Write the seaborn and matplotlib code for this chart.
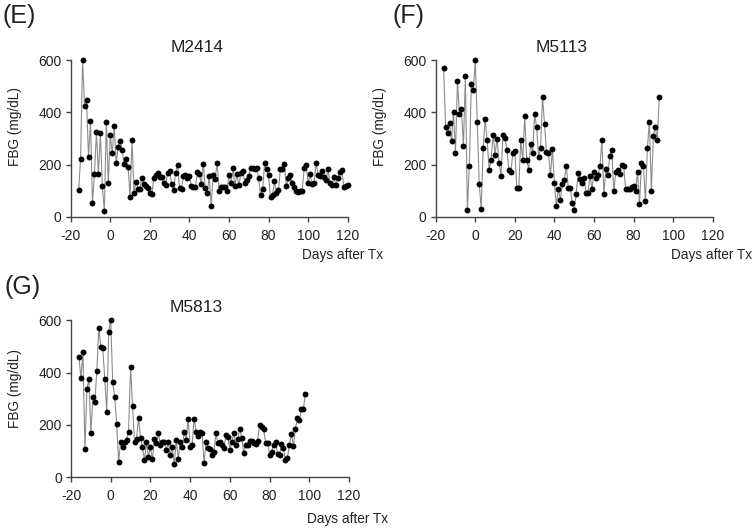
import matplotlib
matplotlib.use("Agg")
import matplotlib.pyplot as plt
import seaborn as sns
import pandas as pd

# ---------------- data ----------------
e_start, e_end = -16, 120
e_fbg = [101, 223, 601, 426, 449, 228, 369, 51, 163, 325, 163, 322, 117, 21, 365, 128,
         315, 243, 348, 205, 269, 292, 257, 202, 222, 192, 75, 294, 92, 134, 108, 108,
         149, 125, 118, 111, 90, 87, 147, 160, 166, 153, 151, 128, 122, 169, 177, 125,
         102, 169, 199, 111, 108, 156, 160, 147, 156, 118, 113, 113, 171, 164, 127, 202,
         112, 92, 156, 41, 159, 145, 207, 100, 115, 113, 115, 100, 160, 128, 186, 118,
         164, 120, 166, 177, 131, 141, 156, 186, 186, 182, 186, 147, 83, 105, 205, 184,
         159, 74, 82, 136, 90, 102, 184, 184, 202, 118, 147, 160, 131, 113, 100, 96,
         100, 100, 186, 200, 128, 164, 125, 128, 205, 160, 156, 177, 151, 141, 182, 128,
         121, 151, 121, 147, 173, 179, 115, 118, 120]

f_start, f_end = -16, 93
f_fbg = [571, 344, 320, 361, 289, 403, 244, 521, 395, 412, 273, 540, 26, 194, 508, 485,
         601, 362, 127, 31, 265, 376, 296, 180, 218, 315, 238, 300, 207, 157, 312, 302,
         257, 180, 172, 245, 252, 110, 110, 295, 218, 385, 218, 180, 280, 245, 395, 343,
         228, 263, 460, 355, 248, 243, 160, 260, 128, 42, 108, 65, 125, 140, 195, 112,
         112, 52, 25, 88, 168, 143, 130, 148, 92, 92, 158, 108, 172, 150, 160, 193,
         293, 88, 182, 160, 232, 257, 98, 173, 178, 165, 200, 195, 105, 108, 108, 115,
         117, 100, 172, 50, 205, 195, 60, 265, 365, 98, 310, 345, 295, 458]

g_start, g_end = -16, 98
g_fbg = [459, 378, 479, 107, 336, 376, 169, 308, 288, 406, 572, 498, 493, 377, 251, 557,
         600, 364, 308, 204, 59, 136, 117, 136, 144, 175, 423, 271, 134, 146, 227, 149,
         115, 66, 136, 76, 115, 70, 145, 130, 168, 124, 136, 134, 103, 134, 85, 115,
         50, 143, 70, 134, 115, 173, 143, 223, 115, 124, 223, 175, 159, 172, 168, 54,
         134, 111, 108, 85, 98, 168, 130, 134, 124, 111, 163, 155, 104, 136, 168, 124,
         146, 185, 149, 92, 124, 124, 140, 139, 130, 127, 140, 200, 194, 185, 132, 132,
         85, 98, 124, 136, 89, 85, 127, 113, 66, 75, 124, 166, 120, 185, 225, 219,
         260, 260, 317]

panel_letters = ["(E)", "(F)", "(G)"]
animal_ids = ["M2414", "M5113", "M5813"]
x_ticks = [-20, 0, 20, 40, 60, 80, 100, 120]
y_ticks = [0, 200, 400, 600]
x_label = "Days after Tx"
y_label = "FBG (mg/dL)"

# ---------------- figure ----------------
sns.set_style("white")
plt.rcParams["font.family"] = ["Liberation Sans", "DejaVu Sans"]
plt.rcParams["axes.unicode_minus"] = False

W, H = 754, 528
fig = plt.figure(figsize=(W / 100, H / 100), dpi=100)

def px_axes(x0, y0, x1, y1):
    return fig.add_axes([x0 / W, 1 - y1 / H, (x1 - x0) / W, (y1 - y0) / H])

series = [
    (e_start, e_end, e_fbg),
    (f_start, f_end, f_fbg),
    (g_start, g_end, g_fbg),
]
boxes = [(70.7, 60.3, 347.7, 216.7), (435.7, 60.3, 712.7, 216.7), (71.0, 320.3, 349.0, 477.3)]
letter_pos = [(3, 16), (392, 16), (4, 287)]
title_pos = [(197, 47), (562, 47), (196, 307)]
ylab_pos = [(15, 127), (380, 127), (15, 388)]
xlab_pos = [(302, 255), (671, 255), (307, 519)]

text_color = "#222222"
spine_color = "#444444"

for (s, e, vals), box, lp, tp, yp, xp, letter, name in zip(
        series, boxes, letter_pos, title_pos, ylab_pos, xlab_pos, panel_letters, animal_ids):
    ax = px_axes(*box)
    df = pd.DataFrame({"day": list(range(s, e + 1)), "fbg": vals})
    sns.lineplot(data=df, x="day", y="fbg", ax=ax, color="#8c8c8c", linewidth=0.8,
                 clip_on=False)
    sns.scatterplot(data=df, x="day", y="fbg", ax=ax, color="black", s=18,
                    linewidth=0, clip_on=False, zorder=3)
    ax.set_xlim(-20, 120)
    ax.set_ylim(0, 600)
    ax.set_xticks(x_ticks)
    ax.set_yticks(y_ticks)
    ax.set_xlabel("")
    ax.set_ylabel("")
    for sp in ["top", "right"]:
        ax.spines[sp].set_visible(False)
    for sp in ["left", "bottom"]:
        ax.spines[sp].set_color(spine_color)
        ax.spines[sp].set_linewidth(1.0)
    ax.tick_params(axis="both", which="major", bottom=True, left=True,
                   direction="out", length=3.5, width=1.0, color=spine_color,
                   labelsize=10, labelcolor=text_color, pad=3)
    ax.tick_params(axis="x", pad=5)
    fig.text(lp[0] / W, 1 - lp[1] / H, letter, fontsize=18, color=text_color,
             ha="left", va="center")
    fig.text(tp[0] / W, 1 - tp[1] / H, name, fontsize=12.5, color=text_color,
             ha="center", va="center")
    fig.text(yp[0] / W, 1 - yp[1] / H, y_label, fontsize=9.8, color=text_color,
             ha="center", va="center", rotation=90)
    fig.text(xp[0] / W, 1 - xp[1] / H, x_label, fontsize=9.8, color=text_color,
             ha="left", va="center")

fig.savefig("out.png", dpi=100, facecolor="white")
